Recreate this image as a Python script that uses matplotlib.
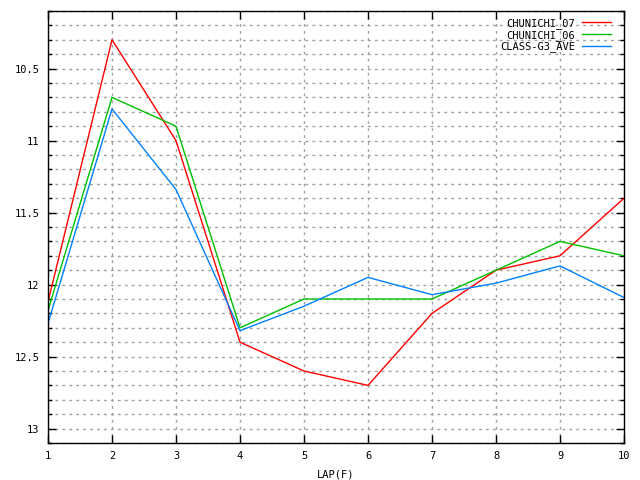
import matplotlib
matplotlib.use("Agg")
import matplotlib.pyplot as plt
from matplotlib.ticker import MultipleLocator, FuncFormatter

laps = [1, 2, 3, 4, 5, 6, 7, 8, 9, 10]
chunichi_07 = [12.12, 10.3, 11.0, 12.4, 12.6, 12.7, 12.2, 11.9, 11.8, 11.4]
chunichi_06 = [12.18, 10.7, 10.9, 12.3, 12.1, 12.1, 12.1, 11.9, 11.7, 11.8]
class_g3_ave = [12.27, 10.78, 11.34, 12.32, 12.15, 11.95, 12.07, 11.99, 11.87, 12.09]

plt.rcParams["font.family"] = ["DejaVu Sans Mono"]
plt.rcParams["font.size"] = 7.5

fig = plt.figure(figsize=(6.4, 4.8), dpi=100)
ax = fig.add_axes([48 / 640, 1 - 443 / 480, 576 / 640, 432 / 480])

ax.plot(laps, chunichi_07, color="#ff0000", lw=1, label="CHUNICHI_07")
ax.plot(laps, chunichi_06, color="#00c000", lw=1, label="CHUNICHI_06")
ax.plot(laps, class_g3_ave, color="#0080ff", lw=1, label="CLASS-G3_AVE")

ax.set_xlim(1, 10)
ax.set_ylim(13.1, 10.1)
ax.xaxis.set_major_locator(MultipleLocator(1))
ax.yaxis.set_major_locator(MultipleLocator(0.5))
ax.yaxis.set_minor_locator(MultipleLocator(0.1))
ax.yaxis.set_major_formatter(FuncFormatter(lambda v, p: f"{v:g}"))

grid_style = dict(color="#a0a0a0", linestyle=(0, (2, 3)), linewidth=1)
ax.grid(True, axis="x", which="major", **grid_style)
ax.grid(True, axis="y", which="both", **grid_style)

ax.tick_params(which="both", direction="in", top=True, right=True, color="black")
ax.tick_params(which="major", length=6, width=1, pad=6)
ax.tick_params(which="minor", length=3, width=1)
for s in ax.spines.values():
    s.set_linewidth(1)

ax.set_xlabel("LAP(F)", labelpad=6)

# legend: text on the left, line sample on the right, placed like gnuplot's key
leg = ax.legend(loc="upper right", frameon=False, markerfirst=False,
                handlelength=2.8, handletextpad=0.65, labelspacing=0.08,
                borderpad=0, borderaxespad=0,
                bbox_to_anchor=((611 - 48) / 576, 1 - 7 / 432))
for t in leg.get_texts():
    t.set_ha("right")

fig.savefig("out.png", dpi=100)
